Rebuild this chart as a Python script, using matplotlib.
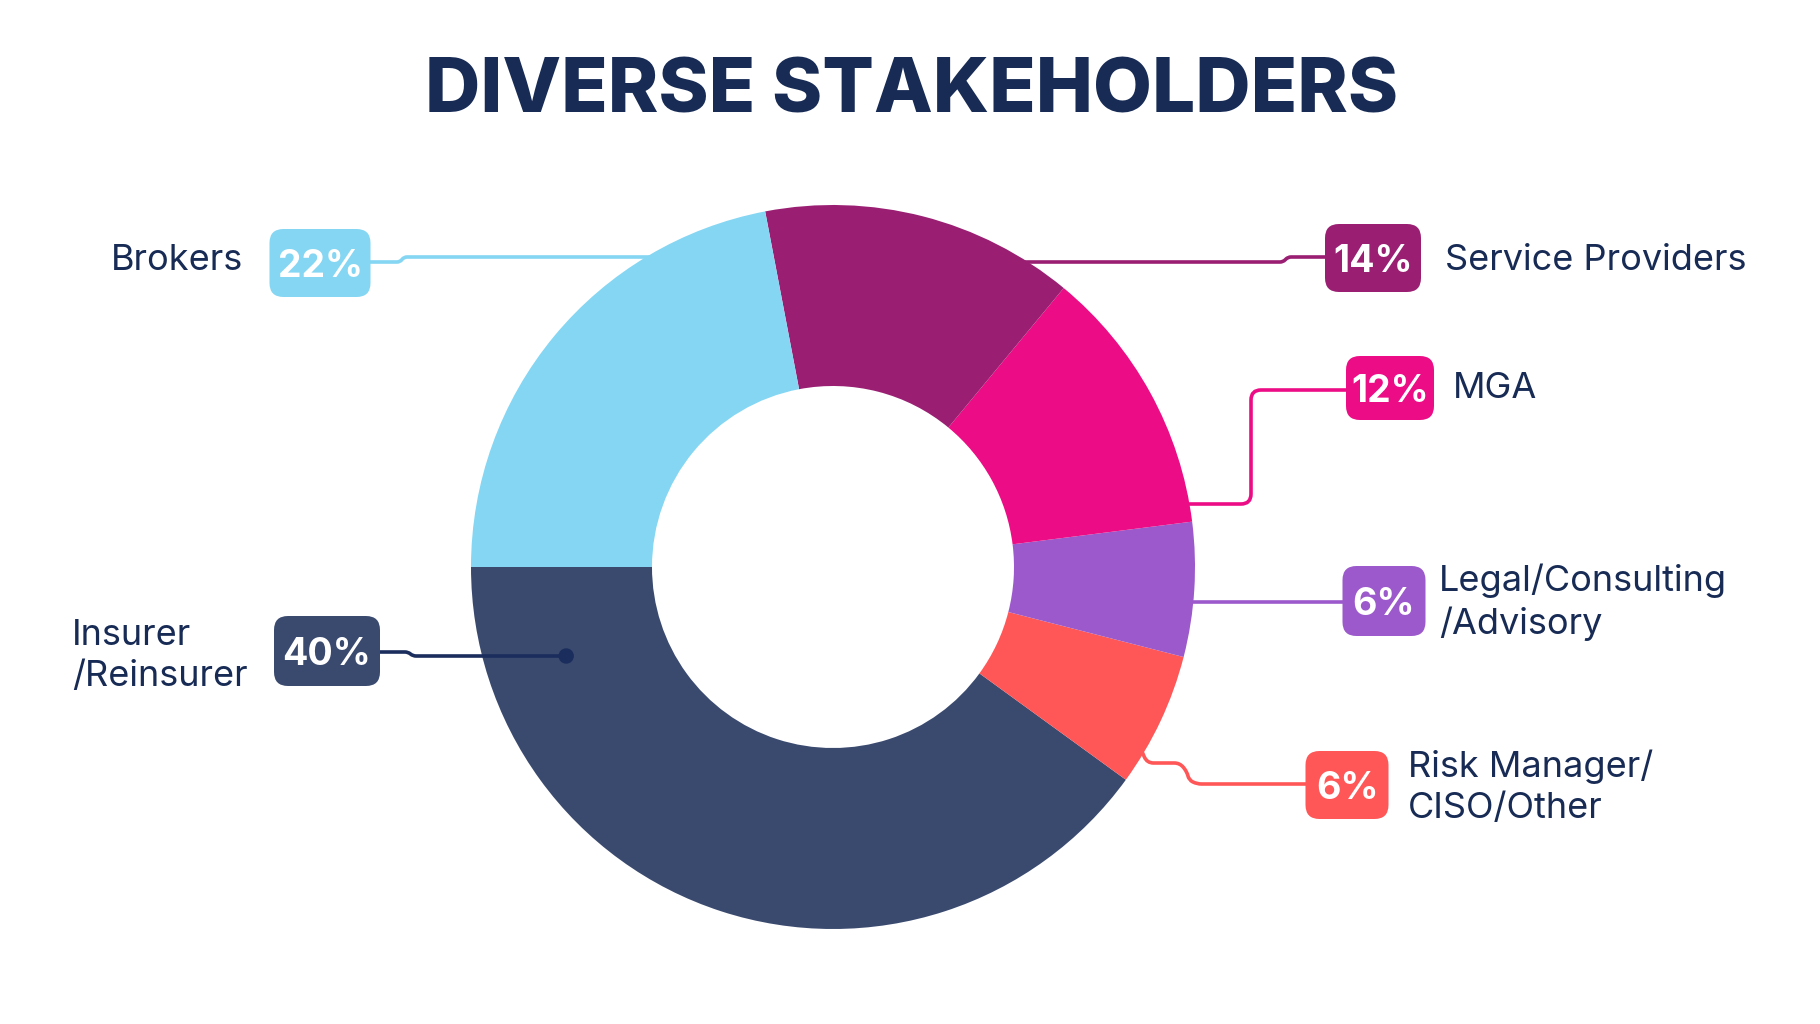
import numpy as np
import matplotlib.pyplot as plt
from matplotlib.patches import FancyBboxPatch, PathPatch, Circle
from matplotlib.path import Path

# data
categories = ['Insurer\n/Reinsurer', 'Risk Manager/\nCISO/Other', 'Legal/Consulting\n/Advisory',
              'MGA', 'Service Providers', 'Brokers']
shares = [40, 6, 6, 12, 14, 22]
share_labels = ['40%', '6%', '6%', '12%', '14%', '22%']
colors = ['#3A4A6F', '#FF5757', '#9B59CB', '#EC0C85', '#9A1F73', '#84D6F3']

NAVY = '#172B55'
W, H = 1820, 1024

plt.rcParams['font.family'] = ['Inter', 'DejaVu Sans']

fig = plt.figure(figsize=(W / 100, H / 100), dpi=100)
ax = fig.add_axes([0, 0, 1, 1])

# donut, everything in pixel coords (y measured from top, flipped below)
cx, cy, R = 833, 567, 362
wedges, _ = ax.pie(shares, colors=colors, startangle=180, counterclock=True,
                   radius=R, center=(cx, H - cy),
                   wedgeprops=dict(width=R / 2, edgecolor='none', linewidth=0))
for w in wedges:
    w.set_zorder(2)
ax.set_xlim(0, W)
ax.set_ylim(0, H)
ax.set_aspect('equal')
ax.axis('off')


def edge_x(y, side):
    # x where a horizontal line at height y meets the outer edge of the ring
    return cx + side * np.sqrt(R ** 2 - (y - cy) ** 2)


def rounded(points, r=9):
    pts = [np.array([x, H - y], float) for x, y in points]
    verts = [pts[0]]
    codes = [Path.MOVETO]
    for i in range(1, len(pts) - 1):
        p0, p1, p2 = pts[i - 1], pts[i], pts[i + 1]
        d1, d2 = p1 - p0, p2 - p1
        l1, l2 = np.hypot(*d1), np.hypot(*d2)
        rr = min(r, l1 / 2, l2 / 2)
        verts += [p1 - d1 / l1 * rr, p1, p1 + d2 / l2 * rr]
        codes += [Path.LINETO, Path.CURVE3, Path.CURVE3]
    verts.append(pts[-1])
    codes.append(Path.LINETO)
    return Path(verts, codes)


# boxes: (center x, center y, width, height)
boxes = {
    0: (327, 651, 106, 70),
    1: (1347, 785, 83, 68),
    2: (1384, 601, 83, 70),
    3: (1390, 388, 88, 64),
    4: (1373, 258, 96, 68),
    5: (320, 263, 101, 68),
}

# leader lines
ins_ang = np.deg2rad(198)
ins_pt = (cx + 0.775 * R * np.cos(ins_ang), cy - 0.775 * R * np.sin(ins_ang))
routes = {
    0: [(380, 652), (408, 652), (413, 656), (ins_pt[0], 656)],
    1: [(edge_x(751, 1) - 3, 751), (1147, 763), (1180, 763), (1187, 772),
        (1189, 780), (1197, 784), (1306, 784)],
    2: [(edge_x(602, 1) - 4, 602), (1343, 602)],
    3: [(edge_x(504, 1) - 4, 504), (1251, 504), (1251, 390), (1347, 390)],
    4: [(edge_x(262, 1) - 4, 262), (1283, 262), (1288, 257), (1326, 257)],
    5: [(370, 262), (400, 262), (404, 257), (edge_x(257, -1) + 4, 257)],
}
line_colors = {0: '#1A2D5C'}
for i, pts in routes.items():
    r = 3 if i in (0, 4, 5) else 10
    ax.add_patch(PathPatch(rounded(pts, r), fill=False, lw=2.6,
                           edgecolor=line_colors.get(i, colors[i]),
                           capstyle='round', joinstyle='round',
                           zorder=3 if i == 0 else 1))
ax.add_patch(Circle((ins_pt[0], H - 656), 7, color='#1A2D5C', zorder=4))

# percentage boxes
for i, (bx, by, bw, bh) in boxes.items():
    ax.add_patch(FancyBboxPatch((bx - bw / 2, H - by - bh / 2), bw, bh,
                                boxstyle='round,pad=0,rounding_size=14',
                                facecolor=colors[i], edgecolor='none', zorder=5))
    ax.text(bx, H - by, share_labels[i], ha='center', va='center_baseline',
            color='white', fontsize=27, fontweight='bold', zorder=6)

# category labels
label_pos = {
    0: (72, 656, 'left'),
    1: (1408, 787, 'left'),
    2: (1439, 602, 'left'),
    3: (1453, 389, 'left'),
    4: (1445, 260, 'left'),
    5: (243, 260, 'right'),
}
for i, (lx, ly, ha) in label_pos.items():
    ax.text(lx, H - ly, categories[i], ha=ha, va='center', color=NAVY,
            fontsize=26, linespacing=1.32, zorder=6)

ax.text(912, H - 93, 'DIVERSE STAKEHOLDERS', ha='center', va='center',
        color=NAVY, fontsize=55, fontweight='heavy')

fig.savefig('out.png', dpi=100, facecolor='white')
